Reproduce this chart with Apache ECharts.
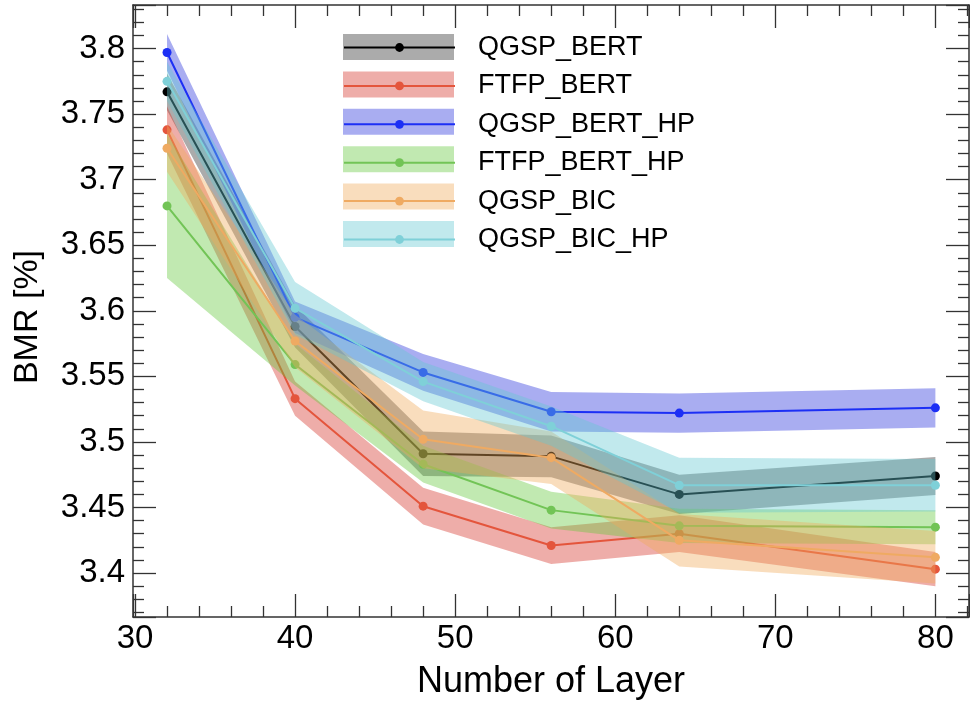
<!DOCTYPE html>
<html>
<head>
<meta charset="utf-8">
<script src="https://cdn.jsdelivr.net/npm/echarts@6/dist/echarts.min.js"></script>
<style>
html,body{margin:0;padding:0;background:#fff;}
#c{width:970px;height:702px;}
</style>
</head>
<body>
<div id="c"></div>
<script>
// ---- data ----
var layers = [32, 40, 48, 56, 64, 80];
var seriesNames = ['QGSP_BERT', 'FTFP_BERT', 'QGSP_BERT_HP', 'FTFP_BERT_HP', 'QGSP_BIC', 'QGSP_BIC_HP'];
var qgspBert     = [3.767, 3.588, 3.491, 3.489, 3.460, 3.474];
var ftfpBert     = [3.738, 3.533, 3.451, 3.421, 3.430, 3.403];
var qgspBertHp   = [3.797, 3.595, 3.553, 3.523, 3.522, 3.526];
var ftfpBertHp   = [3.680, 3.559, 3.483, 3.448, 3.436, 3.435];
var qgspBic      = [3.724, 3.577, 3.502, 3.488, 3.425, 3.412];
var qgspBicHp    = [3.775, 3.602, 3.546, 3.512, 3.467, 3.467];
var errQgspBert   = [0.014, 0.016, 0.017, 0.016, 0.015, 0.0145];
var errFtfpBert   = [0.018, 0.013, 0.014, 0.014, 0.014, 0.013];
var errQgspBertHp = [0.014, 0.012, 0.014, 0.015, 0.015, 0.015];
var errFtfpBertHp = [0.055, 0.016, 0.014, 0.014, 0.013, 0.013];
var errQgspBic    = [0.018, 0.020, 0.022, 0.020, 0.020, 0.020];
var errQgspBicHp  = [0.015, 0.020, 0.015, 0.015, 0.021, 0.020];
var xTickLabels = ['30', '40', '50', '60', '70', '80'];
var yTickLabels = ['3.4', '3.45', '3.5', '3.55', '3.6', '3.65', '3.7', '3.75', '3.8'];

var values = [qgspBert, ftfpBert, qgspBertHp, ftfpBertHp, qgspBic, qgspBicHp];
var errors = [errQgspBert, errFtfpBert, errQgspBertHp, errFtfpBertHp, errQgspBic, errQgspBicHp];
var lineColors = ['#000000', '#e4553c', '#1c2ff5', '#72c456', '#efaa62', '#7fd0d8'];
var bandColors = ['rgba(0,0,0,0.33)', 'rgba(214,60,50,0.42)', 'rgba(40,50,220,0.40)',
                  'rgba(100,200,60,0.40)', 'rgba(240,170,90,0.40)', 'rgba(100,200,210,0.40)'];

var FONT = 'Liberation Sans, Arial, Helvetica, sans-serif';
var series = [];
var bandLegend = [];
seriesNames.forEach(function (name, i) {
  var v = values[i], e = errors[i];
  var bandData = layers.map(function (x, k) { return [x, v[k] - e[k], v[k] + e[k]]; });
  series.push({
    name: name + ' band', type: 'custom', z: 2 + 2 * i, silent: true,
    coordinateSystem: 'cartesian2d',
    encode: { x: 0, y: [1, 2] },
    itemStyle: { color: bandColors[i] },
    data: bandData,
    renderItem: function (params, api) {
      if (params.dataIndex !== 0) return null;
      var upper = [], lower = [];
      bandData.forEach(function (d) {
        upper.push(api.coord([d[0], d[2]]));
        lower.push(api.coord([d[0], d[1]]));
      });
      var pts = upper.concat(lower.reverse());
      return { type: 'polygon', shape: { points: pts }, style: { fill: bandColors[i], stroke: null } };
    }
  });
  series.push({
    name: name, type: 'line', z: 3 + 2 * i,
    data: layers.map(function (x, k) { return [x, v[k]]; }),
    symbol: 'circle', symbolSize: 9, showSymbol: true,
    lineStyle: { color: lineColors[i], width: 2 },
    itemStyle: { color: lineColors[i] }, emphasis: { disabled: true }
  });
  bandLegend.push({ name: name + ' band', icon: 'rect', itemStyle: { color: bandColors[i], borderWidth: 0 } });
});

var axisLineStyle = { color: '#333', width: 1.5 };
var tickStyle = { color: '#333', width: 1.3 };

function xAxisDef(pos, showLabel) {
  return {
    type: 'value', position: pos, min: 29.875, max: 82.1,
    minInterval: 10, maxInterval: 10, splitNumber: 5,
    axisLine: { show: true, onZero: false, lineStyle: axisLineStyle },
    axisTick: { show: true, inside: true, length: 23, lineStyle: tickStyle },
    minorTick: { show: true, splitNumber: 5, length: 11, lineStyle: tickStyle },
    splitLine: { show: false },
    axisLabel: {
      show: showLabel, showMinLabel: false, showMaxLabel: false, margin: 5,
      color: '#000', fontSize: 33, fontFamily: FONT,
      formatter: function (val) {
        var s = String(Math.round(val));
        return xTickLabels.indexOf(s) >= 0 ? s : '';
      }
    },
    name: showLabel ? 'Number of Layer' : '', nameLocation: 'middle', nameGap: 47,
    nameTextStyle: { color: '#000', fontSize: 36, fontFamily: FONT }
  };
}
function yAxisDef(pos, showLabel) {
  return {
    type: 'value', position: pos, min: 3.3665, max: 3.8332,
    minInterval: 0.05, maxInterval: 0.05, splitNumber: 9,
    axisLine: { show: true, onZero: false, lineStyle: axisLineStyle },
    axisTick: { show: true, inside: true, length: 23, lineStyle: tickStyle },
    minorTick: { show: true, splitNumber: 5, length: 11, lineStyle: tickStyle },
    splitLine: { show: false },
    axisLabel: {
      show: showLabel, showMinLabel: false, showMaxLabel: false, margin: 8,
      color: '#000', fontSize: 33, fontFamily: FONT,
      formatter: function (val) {
        var s = String(parseFloat(val.toFixed(2)));
        return yTickLabels.indexOf(s) >= 0 ? s : '';
      }
    },
    name: showLabel ? 'BMR [%]' : '', nameLocation: 'middle', nameGap: 88, nameRotate: 90,
    nameTextStyle: { color: '#000', fontSize: 34, fontFamily: FONT, padding: [0, 12, 0, 0] }
  };
}

var chart = echarts.init(document.getElementById('c'), null, { renderer: 'canvas' });
chart.setOption({
  animation: false,
  backgroundColor: '#fff',
  grid: { left: 133, top: 5, width: 836, height: 612, containLabel: false, outerBoundsMode: 'none' },
  xAxis: [xAxisDef('bottom', true), xAxisDef('top', false)],
  yAxis: [yAxisDef('left', true), yAxisDef('right', false)],
  legend: [
    {
      data: bandLegend, orient: 'vertical', left: 343, top: 34, padding: 0,
      itemWidth: 111, itemHeight: 26, itemGap: 11.4, selectedMode: false, z: 20,
      formatter: function () { return ''; }, textStyle: { fontSize: 1 }
    },
    {
      data: seriesNames, orient: 'vertical', left: 343, top: 34, padding: 0,
      itemWidth: 111, itemHeight: 11, itemGap: 11.4, selectedMode: false, z: 21,
      textStyle: { color: '#000', fontSize: 27, lineHeight: 26, fontFamily: FONT, padding: [0, 0, 0, 18] }
    }
  ],
  series: series
});
</script>
</body>
</html>
